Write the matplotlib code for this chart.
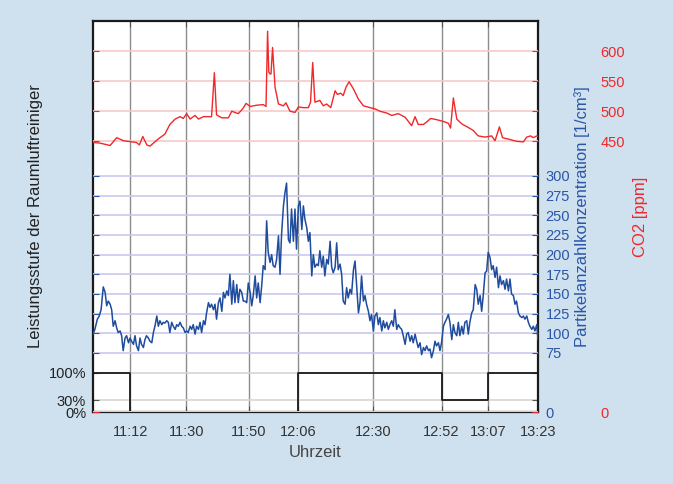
import numpy as np
import matplotlib.pyplot as plt

plt.rcParams['font.family'] = ['Liberation Sans', 'DejaVu Sans']

# minutes after 11:00
tick_min = [12, 30, 50, 66, 90, 112, 127, 143]
tick_lbl = ['11:12', '11:30', '11:50', '12:06', '12:30', '12:52', '13:07', '13:23']

# purifier power level (%)
lvl_t = [0, 12, 66, 112, 127, 143]
lvl_v = [100, 0, 100, 30, 100, 100]

# CO2 [ppm]
co2_t = [0.0, 2.3, 5.5, 7.6, 9.8, 14.0, 14.9, 16.0, 17.3, 18.3, 21.0, 23.1, 24.7, 26.4,
         28.0, 29.0, 30.1, 31.2, 32.8, 33.9, 35.5, 38.1, 39.0, 39.7, 41.4, 43.5, 44.6,
         45.6, 46.7, 48.1, 49.2, 50.5, 52.6, 54.7, 55.6, 56.1, 56.5, 56.9, 57.2, 57.7,
         58.5, 59.6, 61.2, 62.0, 63.3, 64.9, 66.0, 67.6, 69.2, 69.9, 70.6, 71.3, 72.9,
         74.0, 75.1, 76.4, 77.8, 78.5, 79.6, 80.4, 81.3, 82.3, 83.7, 85.3, 86.9, 89.0,
         90.6, 92.2, 94.4, 96.0, 98.1, 100.3, 102.4, 103.5, 104.5, 106.2, 107.4, 108.5,
         110.4, 112.6, 114.2, 114.9, 115.8, 116.9, 118.5, 120.6, 122.2, 123.8, 126.0,
         128.1, 129.2, 130.6, 131.6, 134.0, 136.1, 138.3, 139.4, 140.6, 141.5, 142.6, 143.0]
co2_v = [448, 447, 443, 456, 451, 448, 444, 458, 444, 442, 454, 462, 478, 487,
         491, 488, 496, 487, 493, 487, 491, 491, 564, 494, 489, 489, 500,
         498, 496, 504, 513, 508, 510, 511, 508, 633, 565, 562, 562, 606,
         540, 512, 509, 514, 500, 498, 507, 506, 506, 515, 581, 515, 518,
         509, 512, 506, 534, 528, 530, 526, 540, 549, 537, 520, 509, 506,
         504, 500, 497, 493, 496, 490, 476, 491, 478, 478, 483, 488,
         486, 483, 480, 472, 522, 487, 479, 473, 468, 459, 457,
         459, 451, 474, 456, 453, 450, 449, 457, 459, 456, 459, 458]

# particle number concentration [1/cm3]
pn_t = [0.0, 0.6, 1.4, 2.0, 2.6,
        3.3, 3.9, 4.4, 4.9, 5.5, 6.0, 6.5, 7.1, 7.6, 8.1, 8.7, 9.2, 9.7, 10.3, 10.8, 11.4,
        11.9, 12.4, 13.0, 13.5, 14.0, 14.6, 15.1, 15.6, 16.2, 16.7, 17.2, 17.8, 18.3, 18.9,
        19.4, 19.9, 20.5, 21.0, 21.5, 22.1, 22.6, 23.1, 23.7, 24.2, 24.7, 25.3, 25.8, 26.4,
        26.9, 27.4, 28.0, 28.5, 29.0, 29.6, 30.1, 30.6, 31.2, 31.7, 32.2, 32.8, 33.3, 33.9,
        34.4, 34.9, 35.5, 36.0, 36.5, 37.1, 37.6, 38.1, 38.7, 39.2, 39.7, 40.3, 40.8, 41.4,
        41.9, 42.4, 43.0, 43.5, 44.0, 44.6, 45.1, 45.6, 46.2, 46.7, 47.2, 47.8, 48.3,
        48.8, 49.4, 49.9, 50.5, 51.0, 51.5, 52.1, 52.6, 53.1, 53.7,
        54.2, 54.7, 55.3, 55.8, 56.3, 56.9, 57.4, 57.9, 58.5, 59.0,
        59.6, 60.1, 60.6, 61.2, 61.7, 62.2, 62.8, 63.3, 63.8, 64.4,
        64.9, 65.4, 66.0, 66.5, 67.1, 67.6, 68.1, 68.7, 69.2, 69.7,
        70.3, 70.8, 71.3, 71.9, 72.4, 72.9, 73.5, 74.0, 74.5, 75.1,
        75.6, 76.2, 76.7, 77.2, 77.8, 78.3, 78.8, 79.4, 79.9, 80.4,
        81.0, 81.5, 82.0, 82.6, 83.1, 83.7, 84.2, 84.7, 85.3, 85.8,
        86.3, 86.9, 87.4, 87.9, 88.5, 89.0, 89.5, 90.1, 90.6, 91.2,
        91.7, 92.2, 92.8, 93.3, 93.8, 94.4, 94.9, 95.4,
        96.0, 96.5, 97.0, 97.6, 98.1, 98.7, 99.2, 99.7, 100.3, 100.8,
        101.3, 101.9, 102.4, 102.9, 103.5, 104.0, 104.5, 105.1, 105.6, 106.2,
        106.7, 107.2, 107.8, 108.3, 108.8, 109.4, 109.9, 110.4, 111.0, 111.5,
        112.0, 112.6, 113.1, 113.6, 114.2, 114.7, 115.3, 115.8, 116.3, 116.9,
        117.4, 117.9, 118.5, 119.0, 119.5, 120.1, 120.6, 121.1, 121.7, 122.2,
        122.8, 123.3, 123.8, 124.4, 124.9, 125.4, 126.0, 126.5, 127.0, 127.6,
        128.1, 128.6, 129.2, 129.7, 130.3, 130.8, 131.3, 131.9, 132.4, 132.9,
        133.5, 134.0, 134.5, 135.1, 135.6, 136.1, 136.7, 137.2, 137.8, 138.3,
        138.8, 139.4, 139.9, 140.4, 141.0, 141.5, 142.0, 142.6, 143.0]
pn_v = [99, 105, 118, 122, 130,
        159, 152, 135, 141, 137, 130, 109, 116, 107, 101,
        103, 97, 78, 94, 97, 88, 94, 90, 86, 97,
        84, 78, 94, 86, 82, 92, 97, 94, 90, 88,
        101, 109, 122, 109, 116, 111, 114, 113, 116, 114,
        101, 114, 109, 105, 111, 109, 114, 109, 107, 101,
        103, 101, 109, 105, 111, 99, 109, 105, 114, 101,
        116, 111, 126, 139, 133, 137, 130, 137, 118, 139,
        145, 128, 152, 145, 154, 148, 175, 137, 167, 139,
        162, 139, 156, 152, 141,
        141, 139, 164, 152, 135, 148, 173, 145, 164, 139,
        160, 186, 181, 243, 203, 190, 200, 186, 184, 194,
        224, 175, 226, 262, 279, 291, 219, 215, 258, 217,
        258, 207, 262, 268, 232, 262, 245, 234, 217, 228,
        173, 200, 184, 188, 186, 205, 184, 198, 173, 194,
        188, 217, 184, 177, 184, 215, 181, 188, 175, 141,
        137, 158, 145, 156, 150, 181, 192, 161, 126, 139,
        173, 141, 148, 137, 128, 116, 124, 103, 122, 126,
        111, 120, 103, 116, 107, 114, 105, 111,
        116, 109, 130, 105, 111, 107, 105, 97, 86, 99,
        101, 90, 97, 88, 99, 90, 82, 88, 73, 82,
        78, 84, 78, 80, 69, 78, 90, 84, 88, 78,
        88, 109, 114, 118, 124, 114, 92, 111, 101, 97,
        114, 97, 109, 99, 114, 116, 99, 114, 126, 130,
        162, 156, 137, 148, 128, 148, 177, 179, 203, 196,
        181, 186, 171, 184, 158, 173, 162, 167, 156, 169,
        154, 169, 150, 148, 137, 141, 126, 122, 120, 122,
        118, 122, 114, 109, 105, 109, 103, 111, 92]

BG = '#cfe1ee'
RED = '#f0282a'
BLUE = '#1f4c9e'
BLUE_TXT = '#2a56a8'

fig = plt.figure(figsize=(6.73, 4.84), dpi=100, facecolor=BG)
ax = fig.add_axes([93 / 673, 72 / 484, 445 / 673, 391 / 484])
ax.set_facecolor('white')
axb = ax.twinx()
axr = ax.twinx()

# power level
ax.plot(lvl_t, lvl_v, drawstyle='steps-post', color='#1a1a1a', lw=1.3)
ax.set_xlim(0, 143)
ax.set_ylim(0, 1000)
ax.set_yticks([0, 30, 100])
ax.set_yticklabels(['0%', '30%', '100%'])
ax.set_xticks(tick_min)
ax.set_xticklabels(tick_lbl)
ax.grid(axis='x', color='#8c8c8c', lw=1.0)
ax.grid(axis='y', color='#d6d6d6', lw=1.2)
ax.tick_params(axis='x', direction='in', top=True, bottom=True, length=4,
               color='#555555', labelcolor='#333333', labelsize=10.5, pad=9)
ax.tick_params(axis='y', direction='in', left=True, right=True, length=4,
               color='#555555', labelcolor='#222222', labelsize=10.5, pad=5)
ax.set_xlabel('Uhrzeit', fontsize=12, color='#444444', labelpad=5)
ax.set_ylabel('Leistungsstufe der Raumluftreiniger', fontsize=12, color='#222222')
for s in ax.spines.values():
    s.set_linewidth(1.6)
    s.set_color('#1a1a1a')

# particles
axb.plot(pn_t, pn_v, color=BLUE, lw=1.1)
axb.set_ylim(0, 497)
axb.set_yticks([0, 75, 100, 125, 150, 175, 200, 225, 250, 275, 300])
axb.grid(axis='y', color='#c9caee', lw=1.2)
axb.tick_params(axis='y', direction='in', left=True, right=True, labelleft=False,
                labelright=True, length=4, color=BLUE_TXT, labelcolor=BLUE_TXT,
                labelsize=10.5, pad=5.5)
axb.set_ylabel('Partikelanzahlkonzentration [1/cm³]', fontsize=12, color=BLUE_TXT,
               labelpad=3)

# CO2
axr.plot(co2_t, co2_v, color=RED, lw=1.0)
axr.set_ylim(0, 650)
axr.set_yticks([0, 450, 500, 550, 600])
axr.grid(axis='y', color='#f7caca', lw=1.2)
axr.tick_params(axis='y', direction='in', left=True, right=True, labelleft=False,
                labelright=True, length=4, color=RED, labelcolor=RED,
                labelsize=10.5, pad=45)
axr.set_ylabel('CO2 [ppm]', fontsize=12, color=RED, labelpad=6)

for a in (axb, axr):
    for s in a.spines.values():
        s.set_visible(False)

fig.savefig('out.png', dpi=100, facecolor=BG)
